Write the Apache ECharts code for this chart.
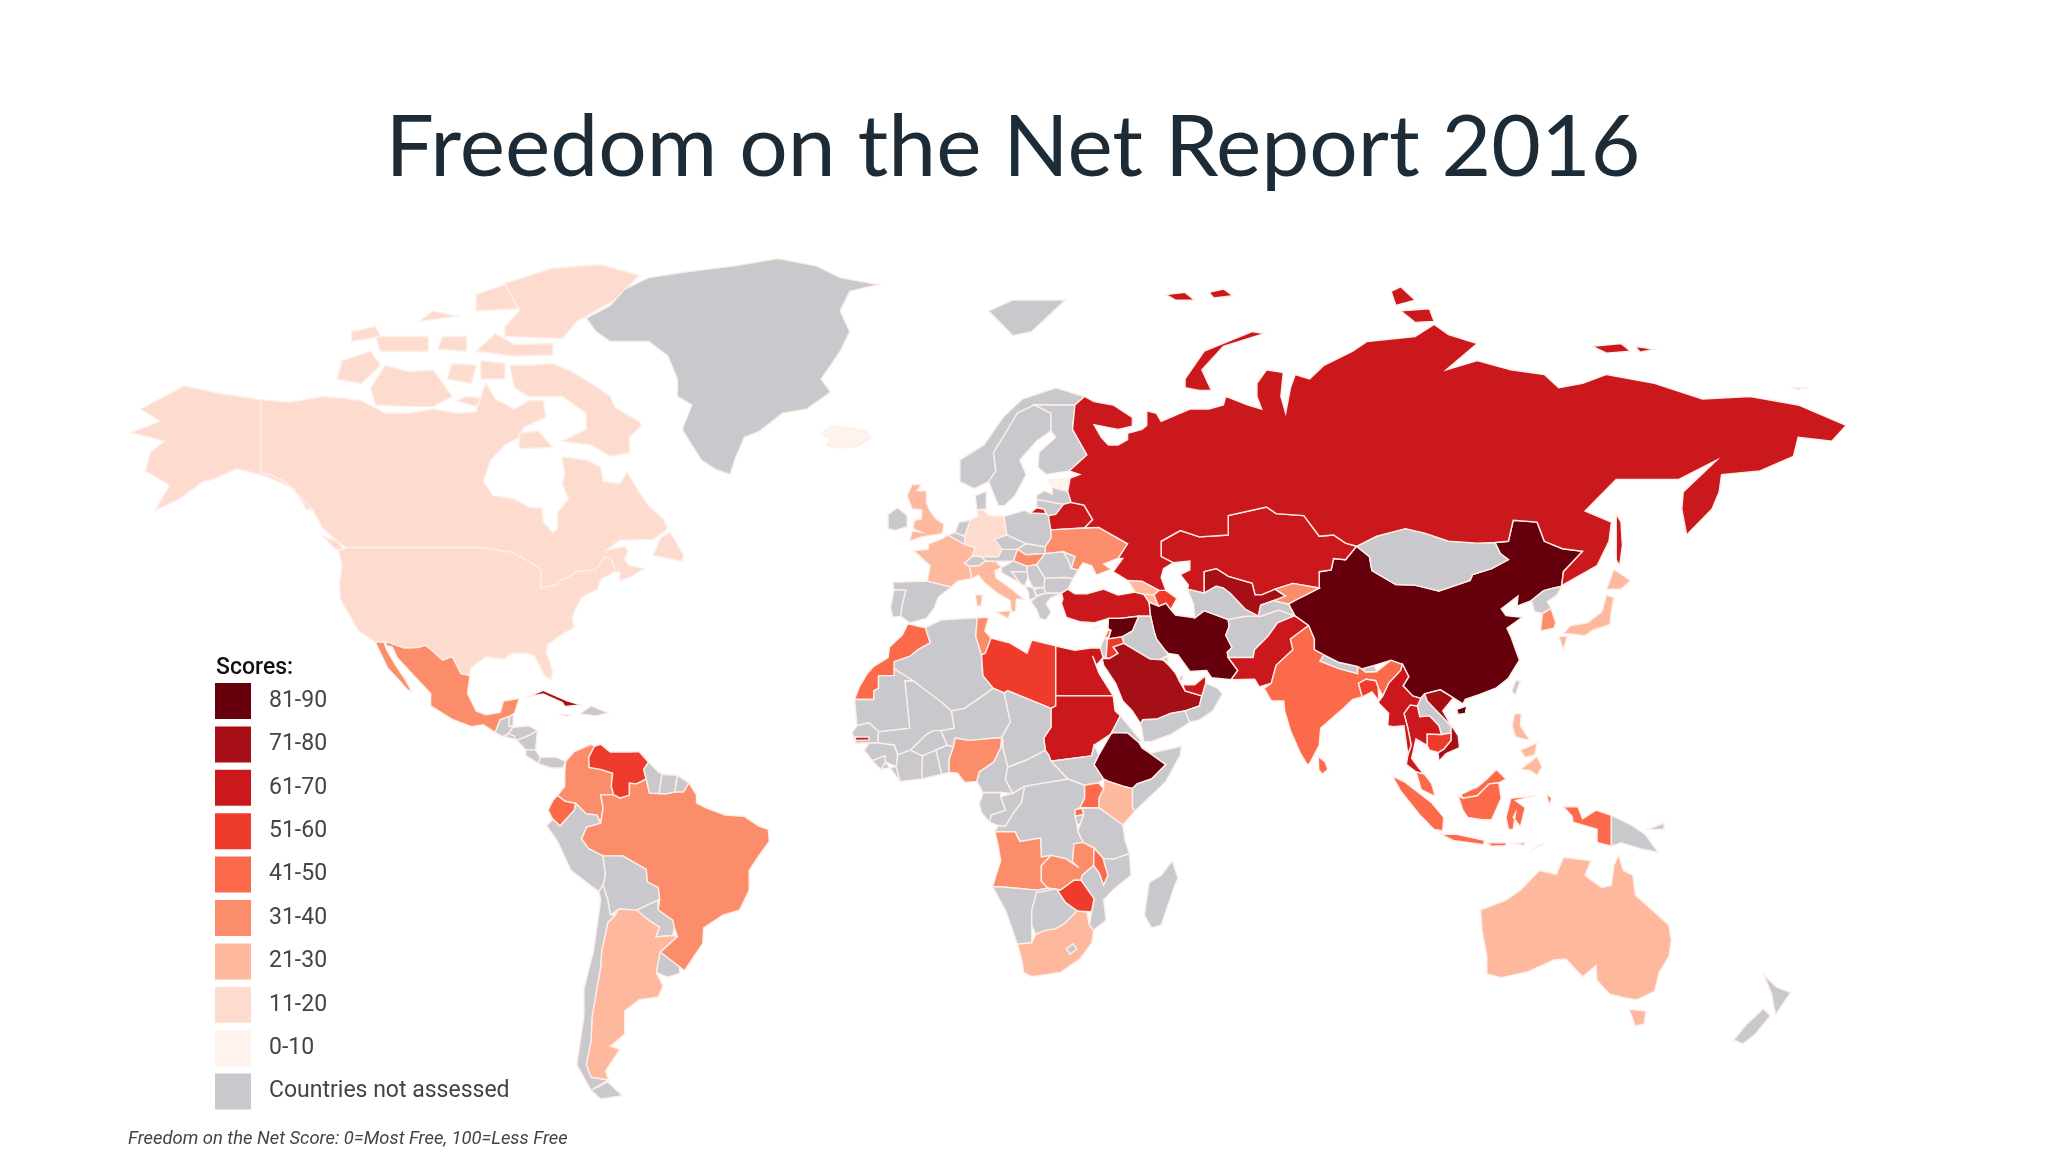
<!DOCTYPE html>
<html>
<head>
<meta charset="utf-8">
<title>Freedom on the Net Report 2016</title>
<script src="https://cdn.jsdelivr.net/npm/echarts@6/dist/echarts.min.js"></script>
<style>
    html, body { margin: 0; padding: 0; background: #fff; }
    #chart { width: 2048px; height: 1152px; }
</style>
</head>
<body>
<div id="chart"></div>
<script>
// scores, one value inside the colour band of each country
const assessedCountries = ["Iceland", "Estonia", "Canada", "United States", "Germany", "Australia", "Japan", "United Kingdom", "Georgia", "France", "Italy", "South Africa", "Philippines", "Argentina", "Kenya", "Armenia", "Brazil", "Colombia", "Nigeria", "Kyrgyzstan", "South Korea", "Hungary", "Mexico", "Zambia", "Ukraine", "Tunisia", "Angola", "India", "Malawi", "Morocco", "Indonesia", "Sri Lanka", "Malaysia", "Uganda", "Lebanon", "Ecuador", "Rwanda", "Cambodia", "Jordan", "Bangladesh", "Zimbabwe", "Azerbaijan", "Libya", "Venezuela", "Turkey", "Myanmar", "Egypt", "Kazakhstan", "Russia", "Sudan", "Belarus", "Thailand", "Gambia", "UAE", "Pakistan", "Saudi Arabia", "Vietnam", "Uzbekistan", "Cuba", "Ethiopia", "Iran", "Syria", "China"];
const assessedScores = [6, 6, 18, 18, 18, 21, 22, 23, 24, 25, 25, 26, 26, 27, 29, 30, 32, 32, 34, 35, 36, 35, 38, 38, 38, 38, 39, 41, 42, 44, 44, 44, 45, 45, 45, 48, 50, 52, 55, 56, 56, 57, 59, 60, 61, 61, 63, 63, 65, 64, 64, 66, 67, 68, 69, 72, 76, 79, 79, 83, 87, 87, 88];
const NOT_ASSESSED = -1;

const bandLabels = ["81-90", "71-80", "61-70", "51-60", "41-50", "31-40", "21-30", "11-20", "0-10", "Countries not assessed"];
const bandMin = [81, 71, 61, 51, 41, 31, 21, 11, 0, NOT_ASSESSED];
const bandMax = [90, 80, 70, 60, 50, 40, 30, 20, 10, NOT_ASSESSED];
const bandColors = ["#67000d", "#a50f15", "#cb181d", "#ef3b2c", "#fb6a4a", "#fc8d6b", "#fdb89e", "#fddccf", "#fff3ed", "#c9c9cd"];

// outlines, "lon,lat lon,lat ..."; one string per ring
const outlines = {
    "Canada": [
        "-141,69.6 -135,69.3 -128,70 -124,69.8 -120,69.5 -115,68 -110,68 -105,68.5 -100,68 -96,68.2 -94,71.5 -92,69.7 -88,68.5 -85,69.5 -82,69.5 -81.5,67.5 -86,66.3 -87,65 -90,64 -93,62 -94.5,59 -92.5,57 -88,56.5 -85,55.3 -82.3,55.1 -82,53 -80,51.3 -79,52 -79,54.5 -76.7,56.5 -78,58.7 -77.5,60 -78,62.4 -73,62 -70,61 -69.5,59 -66,58.7 -64.5,60.3 -62,57.5 -60,55.5 -57,53.5 -56,52 -59,50.3 -66,50.2 -69,48.5 -65,49.2 -64.3,48.5 -65,47 -64,46 -61,45.5 -64,44 -66,43.5 -66,45 -67,45 -67.8,47.2 -69.2,47.4 -71,45.3 -75,45 -76.5,44.2 -79,43.3 -79,42.8 -82.5,42.2 -82.5,45.3 -84.5,46.5 -88.5,48.2 -95,49 -123,49 -125,50 -128,52 -130,54.8 -133,57 -136,59 -139,60 -141,60.3",
        "-59,47.7 -53,46.7 -52.7,47.7 -55.5,51.5 -57.5,50.5",
        "-61.5,66.5 -64,65 -64,63 -68,62.5 -72,64 -78,64.5 -73,66 -73,68 -78,70 -85,70 -88,71 -89,73.5 -85,73.5 -80,73.7 -76,72.8 -72,71.5 -68,70 -67,68.7 -62,67",
        "-117,69 -110,68.8 -105,68.8 -101,70 -105,73 -110,72.8 -115,73.5 -118,71",
        "-125,72 -120,71.5 -116,73.5 -118,75 -124,74",
        "-90,76.5 -78,76.3 -75,78 -67,80 -62,82.2 -70,83.1 -80,82.8 -90,81.5 -87,79 -90,77.5",
        "-96,75 -88,74.5 -80,74.6 -80,75.8 -88,75.7 -92,76.8",
        "-116,75 -106,75 -106,76.5 -117,76.5",
        "-96,79 -87,79.2 -90,81.4 -96,80.5",
        "-95,72 -90,72 -90,73.7 -95,74",
        "-87,63.5 -80,63.7 -83,65.8 -87,65.5",
        "-128,50.8 -125,50 -123.5,48.4 -125.5,48.8",
        "-104,75.2 -98,75 -98,76.5 -103,76.5",
        "-122,76 -116,76.5 -117,77.5 -122,77",
        "-108,78 -100,78.5 -105,79",
        "-100,69.5 -96,68.8 -95,69.8 -98,70",
        "-102,72 -97,71.5 -96,73.5 -101,73.7"
    ],
    "United States": [
        "-123,49 -95,49 -88.5,48.2 -84.5,46.5 -82.5,45.3 -82.5,42.2 -79,42.8 -79,43.3 -76.5,44.2 -75,45 -71,45.3 -69.2,47.4 -67.8,47.2 -67,45 -70,43.7 -70.7,42 -74,40.6 -75.5,38 -76,36.8 -75.5,35.2 -78,33.9 -81,32 -81.4,30.5 -80,26.8 -80.4,25.2 -81.8,26 -82.8,28 -84,30 -86,30.4 -89,30.2 -90,29.2 -94,29.6 -97.2,27.5 -97.3,26 -99.2,26.4 -101,29.7 -103,29 -104.8,30.5 -106.5,31.8 -108.2,31.4 -111,31.3 -114.8,32.5 -117.1,32.5 -120.5,34.5 -122.5,37.5 -124.3,40.3 -124.5,43 -124,46.2 -124.7,48.4",
        "-141,69.6 -141,60.3 -139,60 -136,59 -133,57 -130,54.8 -131.5,55 -134,58 -140,59.8 -146,60.8 -151,59.3 -153,59 -158,56.5 -163,54.8 -160,58.5 -165,60.5 -164,63 -161,64.5 -168,65.6 -162,67 -166,68.5 -157,71.2 -150,70.4"
    ],
    "Mexico": [
        "-114.8,32.5 -111,31.3 -108.2,31.4 -106.5,31.8 -104.8,30.5 -103,29 -101,29.7 -99.2,26.4 -97.3,26 -97.8,22.5 -96,19 -94,18.2 -91,18.7 -90.3,21 -87,21.5 -88,18.5 -89,17.9 -91,17.2 -92,14.6 -94.5,16.2 -97,15.8 -101,17.3 -105.5,20 -105.5,22.5 -109,26 -112.5,29.5 -113.5,31.5 -114.8,31.8",
        "-117.1,32.5 -115.2,32.4 -114.7,31 -112.8,28 -111,25.5 -109.5,23 -110.3,23.2 -112,25 -114.5,27.5 -115.8,30"
    ],
    "Guatemala": ["-92,14.6 -91,17.2 -89.1,17.9 -89.2,15.9 -88.3,15.7 -89.5,14.2 -90.5,13.8"],
    "Belize": ["-89,17.9 -88.2,18.4 -88.3,16 -89.2,15.9"],
    "Honduras": ["-88.3,15.7 -85,16 -83.2,15 -85,14 -87.5,13 -89.3,14.2"],
    "El Salvador": ["-90,13.7 -87.8,13.2 -88,13.9 -89.3,14.4"],
    "Nicaragua": ["-87.5,13 -85,14 -83.2,15 -83.6,11 -85.7,11.1"],
    "Costa Rica": ["-85.7,11.1 -83.6,11 -82.6,9.5 -83,8.2 -85.6,9.8"],
    "Panama": ["-83,8.2 -82.6,9.5 -79.5,9.6 -77.3,8.7 -77.9,7.3 -80.4,7.3"],
    "Cuba": ["-85,21.9 -82,23.1 -77,21 -74.2,20.2 -77.5,19.9 -78,20.7 -82,22.4"],
    "Hispaniola": ["-74.4,18.4 -72,20 -68.4,18.6 -71,18"],
    "Jamaica": ["-78.3,18.3 -76.3,18.2 -77,17.8"],
    "Colombia": ["-77.3,8.7 -75.5,10.7 -72,12.2 -71.3,11.8 -72.5,9.5 -72.4,7.4 -70,7 -67.5,6.2 -67.8,3.5 -67.3,1.7 -70,1.7 -69.5,-1 -70,-4.2 -70.8,-2.5 -73,-2.3 -75.2,-0.1 -77.5,0.4 -79,1.6 -77.5,3.5 -77.5,6.5"],
    "Venezuela": ["-71.3,11.8 -70,12.2 -68,10.6 -64,10.6 -62,10.7 -60,8.5 -61,7 -60.5,5 -62.5,4 -64,4.1 -64,1.6 -66,1 -67.3,1.7 -67.8,3.5 -67.5,6.2 -70,7 -72.4,7.4 -72.5,9.5"],
    "Ecuador": ["-75.2,-0.1 -77.5,0.4 -79,1.6 -80,0.5 -81,-1.5 -80,-3.4 -78.5,-4.8 -75.5,-1.5"],
    "Peru": ["-70,-4.2 -70.8,-2.5 -73,-2.3 -75.2,-0.1 -75.5,-1.5 -78.5,-4.8 -80,-3.4 -81.3,-4.7 -79,-8 -76.2,-14 -70.4,-18.3 -69.5,-17 -69,-15 -69.5,-11 -72.5,-9.5 -74,-7.5 -72.9,-5"],
    "Brazil": ["-69.5,-1 -70,1.7 -67.3,1.7 -66,1 -64,1.6 -64,4.1 -62.5,4 -60.5,5 -59.8,2 -56.5,1.9 -54.5,2.3 -51.6,4.2 -50,1.7 -50,0 -48,-1 -44,-2.5 -40,-2.8 -37,-4.8 -35,-5.5 -34.8,-8 -37,-11 -39,-14 -39,-18 -41,-22 -44.5,-23 -48.5,-25.5 -48.7,-28.5 -52.5,-33.7 -53.5,-33 -57.6,-30.2 -54,-27.2 -54.6,-25.5 -55,-24 -58,-22 -57.7,-20 -58,-17.5 -60.3,-16.3 -60.5,-13.8 -65.4,-11 -69.5,-11 -72.5,-9.5 -74,-7.5 -72.9,-5 -70,-4.2"],
    "Guyana": ["-60,8.5 -58,6.5 -57.2,6 -57.8,2 -59.8,2 -60.5,5 -61,7"],
    "Suriname": ["-57.2,6 -54,5.8 -54.5,2.3 -56.5,1.9 -57.8,2"],
    "French Guiana": ["-54,5.8 -51.6,4.2 -52.7,2.3 -54.5,2.3"],
    "Bolivia": ["-69.5,-11 -65.4,-11 -60.5,-13.8 -60.3,-16.3 -58,-17.5 -57.7,-20 -58,-20 -62.5,-22 -66.2,-21.8 -68,-23 -68.5,-20 -69.5,-17 -69,-15"],
    "Paraguay": ["-58,-20 -62.5,-22 -60,-24 -57.7,-25.4 -58.5,-27.3 -55,-27 -54.6,-25.5 -55,-24 -58,-22"],
    "Uruguay": ["-58.4,-34 -57.6,-30.2 -53.5,-33 -53.5,-34.2 -56,-34.9"],
    "Argentina": ["-66.2,-21.8 -62.5,-22 -60,-24 -57.7,-25.4 -58.5,-27.3 -55,-27 -54,-27.2 -57.6,-30.2 -58.4,-34 -57,-36.5 -58,-38.5 -62,-39 -65,-41 -65,-45 -68,-47 -66,-47.5 -69,-51 -68.4,-52.4 -72,-52 -73,-50 -72,-46 -71.8,-42 -71,-38 -70,-33 -69.8,-30 -68.5,-24.5 -67,-23"],
    "Chile": [
        "-69.5,-17 -68.5,-20 -68,-23 -67,-23 -68.5,-24.5 -69.8,-30 -70,-33 -71,-38 -71.8,-42 -72,-46 -73,-50 -72,-52 -68.4,-52.4 -72,-54 -75,-50 -73.5,-42 -73.5,-37 -71.5,-30 -70,-20 -70.4,-18.3",
        "-68.5,-52.7 -65.5,-54.8 -70,-55.3 -72,-54"
    ],
    "Greenland": ["-73,78.3 -68,79.5 -65,81 -60,82 -52,82.5 -42,83 -33,83.6 -25,83 -20,82 -12,81.4 -18,80.8 -20,79 -18,77 -20,75 -22,73.5 -24,72 -22,70.5 -27,68.5 -32,68 -37,65.7 -40,65 -42,62 -43,60 -46,60.7 -49,62 -51,64 -53,66 -51,69 -54,70 -54,72 -56,74.5 -60,76 -68,76 -71,77"],
    "Svalbard": ["11,79 16,80 27,80 20,77 16,76.6"],
    "Iceland": ["-24,65.5 -22,66.4 -18,66.2 -14.7,65.8 -13.6,65 -16.5,63.8 -20,63.6 -22.7,63.9 -22,64.8"],
    "Ireland": ["-10,52 -10,54.2 -8,55.2 -6,54 -6,52.3 -8.5,51.7"],
    "United Kingdom": ["-5.5,50 -3,50.7 1.3,51.2 1.7,52.7 0,53.5 -1.5,55 -2,56 -2,57.7 -4,57.7 -3,58.6 -5,58.6 -6,57 -5,55 -3,54.9 -3,53.5 -4.5,53.3 -4.8,52 -3,51.4 -5,51.6"],
    "Spain": ["-8.8,41.9 -9,43.2 -1.8,43.4 3.2,42.4 0.5,40.6 -0.3,38.8 -2,36.8 -5.5,36 -7.4,37.2 -7,39.5 -6.3,41.8"],
    "Portugal": ["-8.8,41.9 -6.3,41.8 -7,39.5 -7.4,37.2 -9,37 -9.5,38.7"],
    "France": ["-1.8,43.4 3.2,42.4 4.5,43.4 7.5,43.8 7,45.9 6,46.4 7.6,47.6 8.2,49 6,49.5 2.5,51 1.5,50.5 -1.5,49.6 -1.6,48.7 -4.7,48.5 -1.2,46"],
    "Belgium": ["2.5,51 4,51.4 6,50.8 6,49.5"],
    "Netherlands": ["4,51.4 4.8,53 7.2,53.3 6,50.8"],
    "Germany": ["6,50.8 7.2,53.3 8.8,54 8.5,54.9 10,54.8 11,54 14.2,53.9 14.8,51 12.2,50.3 13.8,48.7 13,47.5 7.6,47.6 8.2,49 6,49.5"],
    "Switzerland": ["6,46.4 7.6,47.6 9.5,47.5 10.4,46.8 9,46 7,45.9"],
    "Austria": ["9.5,47.5 13,47.5 13.8,48.7 17,48.7 16.2,46.8 12.5,46.7 10.4,46.8"],
    "Italy": [
        "7,45.9 9,46 10.4,46.8 12.5,46.7 13.7,45.7 12.3,45.2 12.5,44 16,41.9 18.4,40.2 16.8,40.3 16.6,38 15.7,38 15.5,40 12.5,41.5 10.3,43 8.8,44.4 7.5,43.8",
        "12.5,38 15.6,38.2 15.1,36.7",
        "8.2,41 9.7,41 9.5,39.1 8.5,39"
    ],
    "Poland": ["14.2,53.9 18.5,54.8 19.7,54.4 23,54.3 23.5,54 23.9,52 24,50.5 22.8,49.1 18.8,49.6 14.8,51"],
    "Denmark": ["8.5,54.9 8.2,57 10.5,57.6 10.5,55"],
    "Norway": ["5,59 5,62 10,64 14,67.5 18,69.7 25,71 31,70 29,69 25,69 20.5,69 17,68 14,65 12,63 12.5,60.5 11,59 8,58"],
    "Sweden": ["11,59 12.5,60.5 12,63 14,65 17,68 20.5,69 24,68 24,65.8 21,64.5 17.5,62 18.8,60 16.5,57 14.3,55.5 13,55.5"],
    "Finland": ["24,65.8 24,68 20.5,69 25,69 29,69 28.5,66 31.5,62.7 27.8,60.5 23,60 21.3,61 21.5,63 25,65"],
    "Estonia": ["23.5,59.2 28,59.5 27.5,57.6 25,58 24.3,58.3"],
    "Latvia": ["21,57 22.6,57.7 24.3,57.2 24.3,58.3 25,58 27.5,57.6 28.2,56 26.6,55.7 21,56.4"],
    "Lithuania": ["21,56.4 26.6,55.7 25,54.2 23.5,54 23,54.3 22.5,55 21,55.2"],
    "Belarus": ["23.5,54 25,54.2 26.6,55.7 28.2,56 30.9,55.6 32.7,53.4 31,52.1 24,51.8 23.9,52"],
    "Ukraine": ["24,51.8 31,52.1 34,52.2 40,49.6 38,47.2 35,46.3 36.5,45.4 33.5,44.4 32.5,46 30.7,46.5 29.7,45.3 28.2,45.5 29,47.5 26.6,48.3 22.8,48 22.8,49.1 24,50.5"],
    "Moldova": ["26.6,48.3 29,47.5 28.2,45.5 27.5,47"],
    "Czechia": ["12.2,50.3 14.8,51 18.8,49.6 17,48.7 13.8,48.7"],
    "Slovakia": ["17,48.7 18.8,49.6 22.8,49.1 22.8,48 18.8,47.8"],
    "Hungary": ["16.2,46.8 17,48.7 18.8,47.8 22.8,48 21,46.2 18.8,45.9"],
    "Romania": ["22.8,48 26.6,48.3 27.5,47 28.2,45.5 29.7,45.3 28.6,43.8 27,44 22.7,43.9 21,46.2"],
    "Bulgaria": ["22.7,43.9 27,44 28.6,43.8 27.6,42 26.2,41.3 22.9,41.3 22.5,42.3"],
    "Serbia": ["19,45.9 21,46.2 22.7,43.9 22.5,42.3 20.2,42.3 19.2,44 19,45"],
    "Croatia": ["13.7,45.7 16.2,46.8 19,45.9 19,45 15.8,45 17.6,43 13.6,44.9"],
    "Bosnia": ["15.8,45 19,45 19.2,44 18.5,42.5 17.6,43"],
    "Albania": ["18.5,42.5 20.2,42.3 21,40.7 19.5,40 19.3,41.5"],
    "Macedonia": ["20.5,42 22.5,42.3 22.9,41.3 21,40.9"],
    "Greece": ["21,40.7 22.9,41.3 26.2,41.3 24,40.5 23,39.5 24,38 23,36.5 21.7,36.8 21,38.4 19.8,39.8"],
    "Cyprus": ["32.5,34.8 34.5,35.5 33,35"],
    "Turkey": ["26.2,41.3 26.5,40.3 26.2,39.5 27.2,37 30,36.2 33,36 36,36.8 38.5,36.8 42.3,37.2 44.8,37.2 44.5,39.7 43.4,41.1 41.6,41.5 38,41 35,42 31.5,41.2 29,41.2 27.5,42"],
    "Georgia": ["40,43.5 43,43.4 46.6,41.8 45.5,41 43.4,41.1 41.6,41.5"],
    "Armenia": ["43.4,41.1 45.5,41 46.5,39 44.5,39.7"],
    "Azerbaijan": ["45.5,41 46.6,41.8 48,41.8 50.3,40.4 49,38.4 48,39.5 46.5,39"],
    "Iran": ["44.5,39.7 46.5,39 48,39.5 49,38.4 50,37.4 54,36.9 56,38.2 61,36.6 61.2,35.3 60.5,33.7 61.8,31.4 60.8,30.5 61,29.5 63,27 61.6,25.2 57.5,25.6 56.5,27 53,26.8 50.5,30 48.5,30.3 47.7,31 46,33 45.5,34.5 44.8,37.2"],
    "Iraq": ["38.8,33.4 41,34.5 42.3,37.2 44.8,37.2 45.5,34.5 46,33 47.7,31 48.5,30 47.5,29.5 46.5,29.1 44.7,29.2 39.2,32.2"],
    "Syria": ["36,36.8 38.5,36.8 42.3,37.2 41,34.5 38.8,33.4 36,33 36.5,34.6 35.9,35"],
    "Lebanon": ["35.1,33.1 36,33.4 36.5,34.6 35.9,34.6"],
    "Israel": ["34.3,31.3 35.1,33.1 35.8,33 35.5,29.5 34.9,29.5"],
    "Jordan": ["35.5,29.5 35.8,33 38.8,33.4 39.2,32.2 37,31.5 38,30.3 36.2,29.3"],
    "Saudi Arabia": ["34.7,29.3 36.2,29.3 38,30.3 37,31.5 39.2,32.2 44.7,29.2 46.5,29.1 47.5,29 48.6,28 50,26.5 51,24.6 52,23 55.5,22 55,20 52,19 49,18.5 46,17.3 43.2,17.2 42.7,16.4 41,19 39,21 37.5,24.5 35,28"],
    "Yemen": ["42.7,16.4 43.2,17.2 46,17.3 49,18.5 52,19 53,16.7 49,14.2 45,12.8 43.4,12.7"],
    "Oman": ["52,19 55,20 55.5,22 56.3,24.5 58.7,23.6 59.8,22.4 57.8,19 55,17.2 53,16.7"],
    "UAE": ["51.5,24.2 54,24.2 56.3,26 56.3,24.5 55.5,22 52,23"],
    "Qatar": ["50.8,25 51.5,25 51.5,26 51,26"],
    "Kuwait": ["47.5,29.5 48.4,29.5 48.6,28.5 47.5,29"],
    "Afghanistan": ["61,36.6 64.5,37.2 67.8,37.2 71.5,38.3 74.9,37.3 71.3,36 69.3,33.5 66.5,31 66.2,29.5 61,29.5 60.8,30.5 61.8,31.4 60.5,33.7 61.2,35.3"],
    "Pakistan": ["61,29.5 66.2,29.5 66.5,31 69.3,33.5 71.3,36 74.9,37.3 77.8,35.5 74,33 74.5,31 71,28 70,24.5 67.5,23.8 66.5,25.3 61.6,25.2 63,27"],
    "India": ["74,33 77.8,35.5 79,33 79,31 81,30 80.2,28.8 84,27.4 88,26.4 88,27.8 88.9,27.3 89.7,26.7 92,26.8 95,29 97.4,28.2 97,27 94.5,24.5 93.3,22 92.3,23.7 91.8,25 89.8,25.3 88.2,24.5 89,21.8 87,21.3 85,19.5 80.3,15.5 80,12 78,8.2 77.5,8 76,10.5 74,15 72.8,19 72.6,21 70,21 68.5,23.5 70,24.5 71,28 74.5,31"],
    "Bangladesh": ["88.2,24.5 89.8,25.3 91.8,25 92.3,23.7 92.5,21 91,22.8 89,21.8"],
    "Nepal": ["80.2,28.8 81,30 84,28.6 88,27.8 88,26.4 84,27.4"],
    "Bhutan": ["88.9,27.3 91.5,28 92,26.8 89.7,26.7"],
    "Sri Lanka": ["79.8,9.7 81.3,8.5 81.8,7 80.6,6 79.9,7"],
    "China": [
        "73.6,39.4 74.9,37.3 77.8,35.5 79,33 79,31 81,30 84,28.6 88,27.8 88.9,27.3 91.5,28 95,29 97.4,28.2 98.7,25.8 97.5,24 99.5,22 101.2,21.5 102,22.4 105.3,23.2 108,21.6 110,20.4 110.5,21.3 113.5,22.3 117,23.6 119.5,25.5 121.8,29 121,31 120,33.5 119.2,35 122.4,37 119,37.3 118,38.5 121.5,40.8 121.3,39 124.3,40 126.8,41.7 128,42 130.6,42.5 131,45 135,48.4 130.8,48.8 127,50 125.5,53 120.5,53.3 119.5,50 116.7,49.8 117.8,48 119.5,47 116,45.5 112,44.5 111.5,43.5 105,41.7 100,42.7 96,42.8 91,45.2 90.5,47.5 87.8,49.2 85.5,47 83,47.2 82.5,45.3 80,45 80,42.2 76,40.5",
        "108.7,19.3 110.8,20 110.5,18.5 109,18.3"
    ],
    "Mongolia": ["87.8,49.2 90.5,47.5 91,45.2 96,42.8 100,42.7 105,41.7 111.5,43.5 112,44.5 116,45.5 119.5,47 117.8,48 116.7,49.8 113,49.7 107,50 102,51.3 98,52 92,50.8"],
    "Kazakhstan": ["47,50 51,51.7 55,50.7 61,51 61,54 69,55.3 71,54.3 76.8,54 80,50.8 83,51 85.5,49.7 87.8,49.2 85.5,47 83,47.2 82.5,45.3 80,45 80,42.2 74.5,43 70.8,42 68,41 66.6,41 66,43 61,44.2 58.5,45.5 56,45 56,41.3 52.5,42 52.7,42.7 51,44.5 53,45.3 53,46.8 49.5,46.5 47,47.5"],
    "Uzbekistan": ["56,45 58.5,45.5 61,44.2 66,43 66.6,41 68,41 70.8,42 73,40.8 70.5,40 67.8,39.2 67.3,37.2 64.5,38.5 61.5,41.2 60,42.2 58.5,42.5 56,41.3"],
    "Turkmenistan": ["52.5,42 56,41.3 58.5,42.5 60,42.2 61.5,41.2 64.5,38.5 67.3,37.2 64.5,37.2 61,36.6 56,38.2 54,36.9 53.8,39.3"],
    "Tajikistan": ["67.8,39.2 70.5,40 73.6,39.4 74.9,37.3 71.5,38.3 67.8,37.2 67.3,37.2"],
    "Kyrgyzstan": ["70.5,40 73,40.8 70.8,42 74.5,43 80,42.2 76,40.5 73.6,39.4"],
    "Russia": [
        "31,70 33,69.4 37,69 41,67.5 41,66.4 38,66 33,66.6 34.5,65 36,64 38,64 40,64.7 40,65.5 43,66 44,66.5 44,68.3 46,68 47,67 53,68.5 57,68.5 60,69 60.5,70 65,69 68,68.5 67,70 67,71.5 69,73 72.5,72.7 72,70 73,68 74,71 75,72.5 78,72 81,73.5 87,75 90,76 100,76.5 104,77.7 107,76.7 113,75.8 106.5,73 113,74 120,73 127,72.5 130,71 135,71.5 140,72.5 150,71.5 160,69.7 170,70 180,69 190,66.5 187,64.5 180,65 179,62.5 172,60.5 164,60 163.5,57.5 162,55 156.7,51 155.7,55 156,57.5 163,62 155,59.3 142,59.3 135.5,54.7 141,53 140.5,50 138,46 131,42.8 130.6,42.5 131,45 135,48.4 130.8,48.8 127,50 125.5,53 120.5,53.3 119.5,50 116.7,49.8 113,49.7 107,50 102,51.3 98,52 92,50.8 87.8,49.2 85.5,49.7 83,51 80,50.8 76.8,54 71,54.3 69,55.3 61,54 61,51 55,50.7 51,51.7 47,50 47,47.5 49.5,46.5 47.5,45.5 47,44 48,41.8 46.6,41.8 43,43.4 40,43.5 37,45 39,47.2 38,47.2 40,49.6 34,52.2 31,52.1 32.7,53.4 30.9,55.6 28.2,56 27.5,57.6 28,59.5 30,60 27.8,60.5 31.5,62.7 28.5,66 29,69",
        "19.7,54.4 23,54.3 22.5,55 21,55.2",
        "52,71 55,70.7 57.5,70.7 55.5,73 60,75.5 68.5,76.8 66,77 56,75 52,72",
        "48,80.5 52,80.7 54,80 50,80",
        "57,80.7 60,81 62,80.4 58,80.2",
        "95,80.8 97,81.2 100,80 96,79.5",
        "97,79 103,79.2 104,78 100,77.9",
        "137,75.5 143,75.8 145,75 140,74.8",
        "146,75.5 150,75.2 147,74.9",
        "179,71 182,71 180,70.8",
        "142,54.3 143,53 143.3,49.3 142.7,46 142,47 142,50"
    ],
    "Japan": [
        "130.9,34 132.5,35.5 136,36 139,38 140,41 141.5,40.5 141,38 140.7,35.7 137,34.6 135.5,33.6 132,34",
        "130,33.5 131.8,33.5 131,31",
        "140,42 141.5,45.4 145,43.5 143,42"
    ],
    "South Korea": ["126.2,34.5 126.6,37.7 128.4,38.6 129.4,36 129,35"],
    "North Korea": ["124.3,40 126.8,41.7 128,42 130.6,42.5 129.7,41 127.6,39.8 128.4,38.6 126.6,37.7 125,38"],
    "Taiwan": ["120.2,23 121,25 122,25 120.9,22"],
    "Vietnam": ["102,22.4 105.3,23.2 108,21.6 105.8,19 107,17 109,14 109.3,11.5 106.5,10.3 105,8.7 104.8,10.5 106,11.2 107.5,13 107.5,16 105,18.5 104,19.5 102.5,21"],
    "Laos": ["101.2,21.5 102,22.4 102.5,21 104,19.5 105,18.5 107.5,16 107.5,14.5 105.5,14.2 105,16 103,18 101,17.8 100.5,20"],
    "Cambodia": ["102.5,12 102.5,14.3 105.5,14.2 107.5,14.5 107.5,13 106,11.2 104.8,10.5 103,11"],
    "Thailand": ["98.5,10 98.2,8 100.2,6.5 102,6 101,7 99.3,9.3 100.2,13.3 102.5,12 102.5,14.3 105.5,14.2 105,16 103,18 101,17.8 100.5,20 99,20.2 97.7,18.5 98.5,15.5 99.2,12"],
    "Myanmar": ["92.3,20.7 93.3,22 94.5,24.5 97,27 97.4,28.2 98.7,25.8 97.5,24 99.5,22 101.2,21.5 100.5,20 99,20.2 97.7,18.5 98.5,15.5 99.2,12 98.5,10 97.7,16 95.5,15.8 94.3,16 94.5,18.5"],
    "Malaysia": [
        "100.2,6.5 102,6 103.5,4 104.2,1.4 101.3,2.8",
        "109.6,1.8 111.5,2.7 113,3.3 115,5 117,7 119,5 117.5,4.2 115.5,4 113,1.5 110,1"
    ],
    "Indonesia": [
        "109,1.5 110,1 113,1.5 115.5,4 117.5,4.2 118,1 116,-3.5 114,-3.5 111,-3 110,-1.5",
        "95.3,5.6 98,4.3 103.5,0 106,-3 105.8,-5.8 104,-5.5 101,-2.5 97,2.5",
        "105.3,-6.5 108.5,-6.5 114.5,-7.8 114.3,-8.7 108,-7.8",
        "119.5,-5.5 119,-3 120,1 125,1.5 121,0.5 123,-1 122,-5 120.5,-3 121,-2 120.5,-5.5",
        "131,-0.8 134,-0.8 135,-3.3 137.8,-1.5 141,-2.6 141,-9 138,-8.2 138,-5.5 133,-4 132.8,-2.8",
        "115,-8.3 119,-8.3 119,-8.9 116,-9",
        "119.8,-8.4 123,-8.3 122.8,-8.8",
        "124,-10 127,-8.4 125.5,-9",
        "127.5,2 128.5,1 128,-0.5"
    ],
    "Papua New Guinea": [
        "141,-2.6 145,-4.5 148,-6.5 150.8,-10.3 147,-9.5 143,-8.3 141,-9",
        "148.5,-5.5 152,-4.2 152,-5.5"
    ],
    "Philippines": [
        "120.3,16 120.8,18.5 122.2,18.4 122,16 124,13 121,13.7",
        "122,7 125.5,9.7 126.5,7.5 125.5,5.7 124,6.8",
        "122,11 125.5,12.5 125,10 123,9.5"
    ],
    "Australia": [
        "113.7,-22 114,-26 115,-31 115,-34.3 118,-35 123.5,-33.9 129,-31.7 131.5,-31.5 135,-34.8 137.8,-32.7 138,-35.5 140.7,-38 144,-38.7 146.3,-39 150,-37.5 151,-34 153,-31 153.5,-28 153,-25 149.5,-22 146,-19 145.5,-15 143.5,-14 142.5,-10.8 141.5,-13 141,-17 139,-17.5 135.5,-15 136.7,-12 131,-11.3 129.5,-14.8 126,-14 122,-18 119,-20",
        "144.7,-40.7 148.2,-41 147.9,-43.2 146,-43.6"
    ],
    "New Zealand": [
        "172.8,-34.5 175.5,-36.7 178.4,-37.7 177,-39.5 175.3,-41.6 174.8,-39.8 174.5,-38",
        "172.7,-40.6 174.2,-41.8 171,-45 168.5,-46.6 166.5,-46 169,-43.5"
    ],
    "Morocco": ["-5.9,35.8 -2.2,35.1 -1.2,32.3 -3.7,31 -5.5,29.7 -8.7,28.7 -8.7,27.3 -8.7,26 -12,26 -12,23.5 -13,23 -13,21.3 -17,21.3 -16,23.8 -14.5,26.2 -13,27.8 -10,29.5 -9.7,31.5 -7,33.8"],
    "Algeria": ["-2.2,35.1 1,36.5 8.6,36.9 8.3,33.5 9.5,30 9.8,26 12,23.5 6,19.5 3.2,19 1.2,20.7 -4.8,25 -8.7,27.3 -8.7,28.7 -5.5,29.7 -3.7,31 -1.2,32.3"],
    "Tunisia": ["8.6,36.9 11,37 10.2,34.5 11.5,33.2 10.3,30.3 9.5,30 8.3,33.5"],
    "Libya": ["11.5,33.2 15.3,32.3 19,30.3 20,32.8 25,31.7 25,20 24,19.5 15,23 14.2,22.6 12,23.5 9.8,26 9.5,30 10.3,30.3"],
    "Egypt": ["25,31.7 29,30.9 32.3,31.3 34.3,31.3 34.9,29.5 33.5,28 32.7,29.8 34,26.5 37,22 25,22"],
    "Sudan": ["25,22 37,22 37.4,19 38.5,18 36.5,14.3 33,12 32.5,9.8 24,8.7 23.5,10 22.8,11 22.5,13.5 24,15.7 24,19.5 25,20"],
    "South Sudan": ["24,8.7 32.5,9.8 33,12 34,10 33,8 35,5 33.9,4.2 31,3.7 27.5,5"],
    "Eritrea": ["36.5,14.3 38.5,18 43,12.7 42,12.8 40,14.5 37,14.6"],
    "Ethiopia": ["33,8 34,10 36.5,14.3 37,14.6 40,14.5 42.4,12.5 43,11.5 44.8,10.4 48,8 45,5 42,4 41,3 39,3.5 36,4.5 35,5"],
    "Somalia": ["43,11.5 44.8,10.4 51.2,11.8 51,10 48,4.5 41.5,-1.7 41,-1 41,3 42,4 45,5 48,8"],
    "Kenya": ["35,5 36,4.5 39,3.5 41,3 41,-1 41.5,-1.7 39,-4.6 34,-1 34,1 35,3"],
    "Uganda": ["31,3.7 33.9,4.2 35,3 34,1 34,-1 30,-1 31,1"],
    "Tanzania": ["30.5,-1.1 34,-1 39,-4.6 39.5,-8 40.4,-10.5 37,-11.7 34.9,-11.5 33,-9.4 30.7,-8.2 29.6,-6 30.1,-4.4 30.8,-2.4"],
    "Rwanda": ["29,-1.4 30.5,-1.1 30.8,-2.4 29,-2.8"],
    "Burundi": ["29,-2.8 30.8,-2.4 30.1,-4.4 29.4,-4.4"],
    "DR Congo": ["12.3,-6 13,-4.7 14.5,-4.8 16.2,-2 17.8,0 18.5,3.5 22,4.1 27.5,5 31,3.7 31,1 30,-1 29,-1.4 29,-2.8 29.4,-4.4 29.6,-6 30.7,-8.2 28.8,-8.5 28.5,-12.2 29.8,-13.4 27.2,-11.6 24,-10.9 22,-11.2 21.8,-7.3 17.5,-8 16.5,-6"],
    "Congo": ["11.2,-4 13,-4.7 14.5,-4.8 16.2,-2 17.8,0 18.5,3.5 16,2 13.5,1.3 14.5,-1.5 11.5,-2.5"],
    "Gabon": ["9,0 9.5,1 9.8,2.2 13.5,2.2 13.5,1.3 14.5,-1.5 11.5,-2.5 11.2,-4 9.5,-2"],
    "Cameroon": ["8.5,4.5 9.8,2.2 13.5,2.2 16,2 14.5,5 15,7.5 14,11.5 14,13 13.5,11.5 12,8.5 9,6.5"],
    "Nigeria": ["2.7,6.4 4.5,6.2 6,4.3 8.5,4.5 9,6.5 12,8.5 13.5,11.5 13.7,13.6 10,13.3 7,13 4,13.5 3.6,11.7 2.7,9"],
    "Central African Republic": ["15,7.5 14.5,5 16,2 18.5,3.5 22,4.1 27.5,5 24,8.7 23.5,10 22.8,11 19,9"],
    "Chad": ["14,13 14,11.5 15,7.5 19,9 22.8,11 22.5,13.5 24,15.7 24,19.5 15,23 14.2,22.6 15.5,16.8 13.7,13.6"],
    "Niger": ["4,13.5 7,13 10,13.3 13.7,13.6 15.5,16.8 14.2,22.6 12,23.5 6,19.5 3.2,19 3.8,15.5 1,15 2.3,12 3.6,11.7"],
    "Mali": ["-12.2,12.5 -12,14.8 -5.5,15.5 -6.5,25 -4.8,25 1.2,20.7 3.2,19 3.8,15.5 1,15 -0.5,15 -2,14.2 -5.3,11 -8,10 -8.7,12"],
    "Mauritania": ["-16.5,16 -17,21.3 -13,21.3 -13,23 -12,23.5 -12,26 -8.7,26 -8.7,27.3 -4.8,25 -6.5,25 -5.5,15.5 -12,14.8 -14,16.6"],
    "Senegal": ["-17.5,14.7 -16.5,16 -14,16.6 -12,14.8 -12.2,12.5 -16.8,12.4"],
    "Gambia": ["-16.8,13.7 -14,13.7 -14,13.1 -16.8,13"],
    "Guinea": ["-15,11 -13.3,8.8 -10.7,9.8 -10.5,8.5 -8.3,7.6 -8,10 -8.7,12 -12.2,12.5 -14,12.4"],
    "Sierra Leone": ["-13.3,8.8 -11.5,7 -10.5,8.5 -10.7,9.8"],
    "Liberia": ["-11.5,7 -8.3,7.6 -7.5,4.5 -10.5,8.5"],
    "Ivory Coast": ["-8.3,7.6 -8,10 -5.3,11 -2.8,9.8 -3,5 -7.5,4.5"],
    "Burkina Faso": ["-5.3,11 -2,14.2 -0.5,15 1,15 2.3,12 0,11 -2.8,9.8"],
    "Ghana": ["-2.8,9.8 0,11 1.2,6 -3,5"],
    "Benin": ["0,11 2.3,12 3.6,11.7 2.7,9 2.7,6.4 1.2,6"],
    "Angola": ["12.3,-6 16.5,-6 17.5,-8 21.8,-7.3 22,-11.2 24,-10.9 22,-13 22,-16.2 23.4,-17.6 21,-18 13.5,-17.3 11.8,-17.3 13.5,-12 13,-9"],
    "Zambia": ["22,-13 24,-10.9 27.2,-11.6 29.8,-13.4 28.5,-12.2 28.8,-8.5 30.7,-8.2 33,-9.4 32.9,-13 30.5,-15 30.3,-16 28.8,-16 26,-18 25,-17.8 23.4,-17.6 22,-16.2"],
    "Malawi": ["33,-9.4 34.9,-11.5 35.9,-15 35,-17 34,-14.5 32.9,-13"],
    "Mozambique": ["34.9,-11.5 37,-11.7 40.4,-10.5 40.7,-15 37,-17.9 35,-20 35.5,-24 32.9,-26 32,-25 32.5,-22.3 33,-19.7 30.3,-16 30.5,-15 32.9,-13 34,-14.5 35,-17 35.9,-15"],
    "Zimbabwe": ["25.3,-18 26,-18 28.8,-16 30.3,-16 33,-19.7 32.5,-22.3 29.5,-22.2 27,-20.5"],
    "Namibia": ["11.8,-17.3 13.5,-17.3 21,-18 23.4,-17.6 25,-17.8 21,-18.5 20,-22 20,-28.4 17,-28.7 14.5,-22"],
    "Botswana": ["21,-18.5 25,-17.8 25.3,-18 27,-20.5 29.5,-22.2 26.8,-24.7 25,-25.7 22.8,-26 20.8,-26.8 20,-25 20,-22"],
    "South Africa": ["17,-28.7 20,-28.4 20.8,-26.8 22.8,-26 25,-25.7 26.8,-24.7 29.5,-22.2 31.5,-22.4 32,-25 32.9,-26 32.5,-28.5 30,-31.5 26,-34 20,-34.8 18.3,-34 18,-32"],
    "Lesotho": ["27.2,-29.6 28.6,-28.6 29.4,-29.6 28,-30.6"],
    "Madagascar": ["49.3,-12 50.5,-15.5 49.5,-18 47,-25 45,-25.5 43.5,-23 44.5,-16.5 47,-15"]
};

// the reference is a Miller map, fitted to picture pixels
const pxPerDegree = 4.79;
const originX = 936;
const originY = 803;
const toRad = Math.PI / 180;

function project(coord) {
    const m = 1.25 * Math.log(Math.tan(Math.PI / 4 + 0.4 * coord[1] * toRad));
    return [originX + pxPerDegree * coord[0], originY - pxPerDegree / toRad * m];
}

function unproject(point) {
    const m = (originY - point[1]) * toRad / pxPerDegree;
    return [(point[0] - originX) / pxPerDegree, (Math.atan(Math.exp(m / 1.25)) - Math.PI / 4) / 0.4 / toRad];
}

function parseRing(text) {
    const ring = text.split(" ").map(function (pair) {
        return pair.split(",").map(Number);
    });
    ring.push(ring[0]);
    return ring;
}

const worldGeo = {
    type: "FeatureCollection",
    features: Object.keys(outlines).map(function (name) {
        return {
            type: "Feature",
            properties: { name: name },
            geometry: {
                type: "MultiPolygon",
                coordinates: outlines[name].map(function (text) {
                    return [parseRing(text)];
                })
            }
        };
    })
};

echarts.registerMap("freedomWorld", worldGeo);

let myChart = echarts.init(document.getElementById("chart"));

let mapData = Object.keys(outlines).map(function (name) {
    let i = assessedCountries.indexOf(name);
    return { name: name, value: i < 0 ? NOT_ASSESSED : assessedScores[i] };
});

let pieces = bandLabels.map(function (label, i) {
    return { min: bandMin[i], max: bandMax[i], label: label, color: bandColors[i] };
});

let option = {
    backgroundColor: "#ffffff",
    animation: false,
    title: [
        {
            text: "Freedom on the Net Report 2016",
            left: 1008,
            top: 143,
            textAlign: "center",
            textVerticalAlign: "middle",
            textStyle: { fontFamily: "Lato", fontSize: 85.7, fontWeight: "normal", color: "#1c2b36" }
        },
        {
            text: "Scores:",
            left: 211,
            top: 652,
            textStyle: { fontFamily: "Roboto", fontSize: 23, fontWeight: 500, color: "#111111" }
        },
        {
            text: "Freedom on the Net Score: 0=Most Free, 100=Less Free",
            left: 123,
            top: 1125,
            textStyle: { fontFamily: "Roboto", fontSize: 18.4, fontStyle: "italic", fontWeight: "normal", color: "#444444" }
        }
    ],
    visualMap: {
        type: "piecewise",
        orient: "vertical",
        left: 200,
        top: 668,
        itemWidth: 36,
        itemHeight: 36,
        itemGap: 7.4,
        itemSymbol: "rect",
        textGap: 18,
        hoverLink: false,
        selectedMode: false,
        pieces: pieces,
        textStyle: { fontFamily: "Roboto", fontSize: 23, color: "#444444" }
    },
    series: [
        {
            type: "map",
            map: "freedomWorld",
            projection: { project: project, unproject: unproject },
            boundingCoords: [unproject([0, 0]), unproject([2048, 1152])],
            left: 0,
            top: 0,
            width: 2048,
            height: 1152,
            aspectScale: 1,
            roam: false,
            silent: true,
            label: { show: false },
            showLegendSymbol: false,
            itemStyle: { borderColor: "#fdeee8", borderWidth: 1.4 },
            data: mapData
        }
    ]
};

myChart.setOption(option);
window.addEventListener("resize", function () {
    myChart.resize();
});
</script>
</body>
</html>
